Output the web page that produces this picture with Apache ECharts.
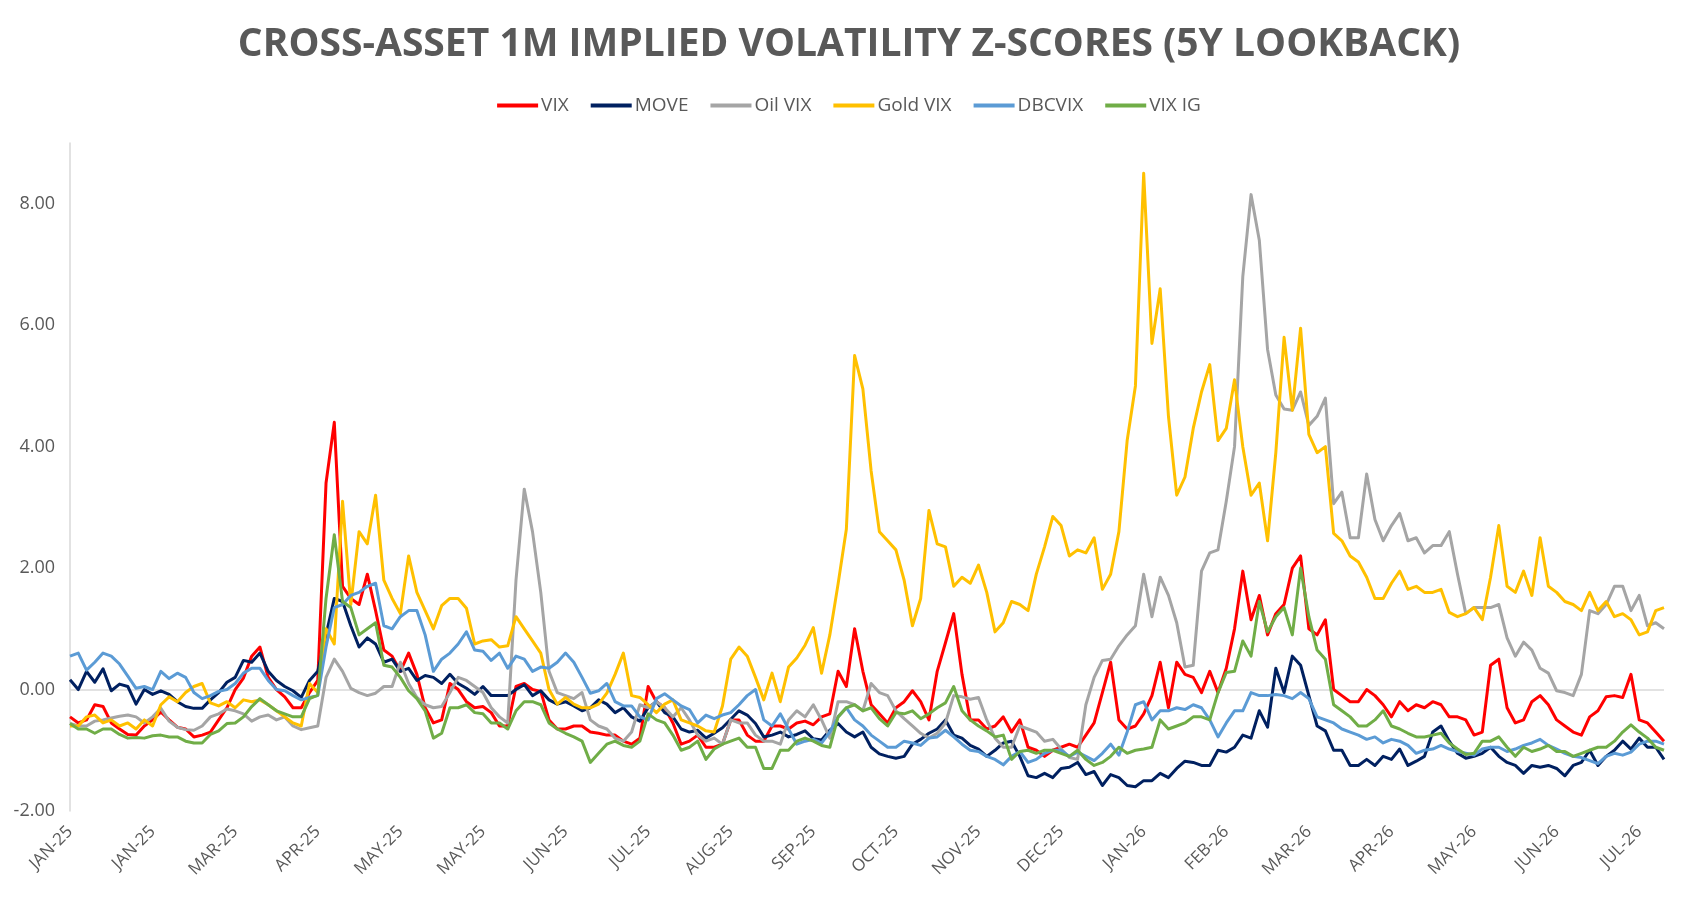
<!DOCTYPE html>
<html>
<head>
<meta charset="utf-8">
<title>Cross-Asset 1M Implied Volatility Z-Scores</title>
<script src="https://cdn.jsdelivr.net/npm/echarts@6/dist/echarts.min.js"></script>
<style>
  html, body { margin: 0; padding: 0; background: #fff; }
  #chart { width: 1698px; height: 900px; }
</style>
</head>
<body>
<div id="chart"></div>
<script>
// Tick labels shown every 10th observation on the category axis
const TICK_LABELS = [
  "JAN-25", "JAN-25", "MAR-25", "APR-25", "MAY-25", "MAY-25", "JUN-25",
  "JUL-25", "AUG-25", "SEP-25", "OCT-25", "NOV-25", "DEC-25", "JAN-26",
  "FEB-26", "MAR-26", "APR-26", "MAY-26", "JUN-26", "JUL-26"
];
const LABEL_STEP = 10;

const VIX = [
  -0.45,-0.55,-0.5,-0.25,-0.28,-0.55,-0.65,-0.74,-0.75,-0.6,
  -0.5,-0.37,-0.5,-0.62,-0.65,-0.78,-0.75,-0.7,-0.5,-0.3,
  0.0,0.19,0.55,0.7,0.2,0.0,-0.12,-0.3,-0.3,-0.05,
  0.15,3.4,4.4,1.7,1.5,1.4,1.9,1.3,0.65,0.55,
  0.3,0.6,0.25,-0.3,-0.55,-0.5,0.1,0.0,-0.2,-0.3,
  -0.28,-0.38,-0.6,-0.6,0.05,0.1,0.0,-0.03,-0.5,-0.65,
  -0.65,-0.6,-0.6,-0.7,-0.72,-0.75,-0.75,-0.85,-0.9,-0.8,
  0.05,-0.2,-0.3,-0.55,-0.9,-0.85,-0.75,-0.95,-0.95,-0.9,
  -0.5,-0.5,-0.75,-0.85,-0.85,-0.6,-0.6,-0.65,-0.55,-0.52,
  -0.58,-0.45,-0.4,0.3,0.05,1.0,0.3,-0.25,-0.4,-0.55,
  -0.3,-0.2,-0.02,-0.2,-0.5,0.3,0.77,1.25,0.25,-0.5,
  -0.5,-0.65,-0.6,-0.45,-0.7,-0.5,-0.95,-1.0,-1.1,-1.0,
  -0.95,-0.9,-0.95,-0.75,-0.55,-0.05,0.45,-0.5,-0.65,-0.6,
  -0.4,-0.1,0.45,-0.3,0.45,0.25,0.2,-0.05,0.3,-0.05,
  0.35,1.0,1.95,1.15,1.55,0.9,1.25,1.4,2.0,2.2,
  1.0,0.9,1.15,0.0,-0.1,-0.2,-0.2,0.0,-0.1,-0.25,
  -0.45,-0.2,-0.35,-0.25,-0.3,-0.2,-0.25,-0.45,-0.45,-0.5,
  -0.75,-0.7,0.4,0.5,-0.3,-0.55,-0.5,-0.2,-0.1,-0.25,
  -0.5,-0.6,-0.7,-0.75,-0.45,-0.35,-0.12,-0.1,-0.13,0.25,
  -0.5,-0.55,-0.7,-0.85
];

const MOVE = [
  0.16,0.0,0.3,0.12,0.34,-0.02,0.09,0.05,-0.24,0.0,
  -0.08,-0.02,-0.08,-0.2,-0.28,-0.31,-0.31,-0.17,-0.05,0.12,
  0.2,0.48,0.45,0.6,0.3,0.15,0.05,-0.02,-0.13,0.15,
  0.3,0.9,1.5,1.45,1.05,0.7,0.85,0.75,0.45,0.5,
  0.3,0.35,0.15,0.23,0.2,0.1,0.25,0.1,0.02,-0.08,
  0.05,-0.1,-0.1,-0.1,0.0,0.08,-0.1,-0.02,-0.17,-0.24,
  -0.2,-0.27,-0.35,-0.3,-0.17,-0.24,-0.38,-0.3,-0.45,-0.52,
  -0.3,-0.2,-0.38,-0.45,-0.65,-0.7,-0.67,-0.8,-0.72,-0.63,
  -0.49,-0.35,-0.42,-0.56,-0.78,-0.75,-0.7,-0.78,-0.74,-0.68,
  -0.81,-0.83,-0.67,-0.56,-0.7,-0.78,-0.7,-0.95,-1.06,-1.1,
  -1.13,-1.1,-0.9,-0.82,-0.72,-0.65,-0.5,-0.75,-0.8,-0.92,
  -0.98,-1.1,-1.0,-0.88,-0.85,-1.1,-1.42,-1.45,-1.38,-1.45,
  -1.3,-1.28,-1.2,-1.4,-1.35,-1.58,-1.4,-1.45,-1.58,-1.6,
  -1.5,-1.5,-1.38,-1.45,-1.3,-1.18,-1.2,-1.25,-1.25,-1.0,
  -1.03,-0.95,-0.75,-0.8,-0.35,-0.62,0.35,-0.05,0.55,0.4,
  -0.1,-0.6,-0.68,-1.0,-1.0,-1.25,-1.25,-1.15,-1.25,-1.1,
  -1.15,-0.98,-1.25,-1.18,-1.1,-0.7,-0.6,-0.85,-1.05,-1.13,
  -1.1,-1.05,-0.95,-1.1,-1.2,-1.25,-1.38,-1.25,-1.28,-1.25,
  -1.3,-1.42,-1.25,-1.2,-1.0,-1.25,-1.1,-1.0,-0.85,-0.98,
  -0.8,-0.95,-0.95,-1.15
];

const OIL_VIX = [
  -0.56,-0.6,-0.6,-0.52,-0.5,-0.47,-0.44,-0.42,-0.45,-0.55,
  -0.45,-0.31,-0.52,-0.62,-0.66,-0.67,-0.6,-0.45,-0.4,-0.32,
  -0.35,-0.4,-0.52,-0.45,-0.42,-0.5,-0.45,-0.6,-0.66,-0.63,
  -0.6,0.2,0.5,0.3,0.02,-0.05,-0.1,-0.06,0.05,0.05,
  0.45,0.1,-0.13,-0.25,-0.3,-0.28,-0.05,0.2,0.15,0.05,
  -0.05,-0.3,-0.45,-0.55,1.8,3.3,2.6,1.6,0.3,-0.05,
  -0.1,-0.15,-0.05,-0.5,-0.6,-0.65,-0.8,-0.85,-0.7,-0.25,
  -0.3,-0.2,-0.3,-0.45,-0.3,-0.5,-0.75,-0.85,-0.8,-0.9,
  -0.5,-0.55,-0.55,-0.75,-0.85,-0.85,-0.9,-0.5,-0.35,-0.45,
  -0.25,-0.5,-0.8,-0.2,-0.2,-0.25,-0.35,0.1,-0.05,-0.1,
  -0.35,-0.48,-0.6,-0.72,-0.8,-0.72,-0.55,-0.1,-0.12,-0.16,
  -0.13,-0.5,-0.8,-0.95,-0.95,-0.6,-0.65,-0.7,-0.85,-0.82,
  -0.98,-1.12,-1.15,-0.25,0.2,0.48,0.5,0.72,0.9,1.05,
  1.9,1.2,1.85,1.55,1.1,0.37,0.4,1.95,2.25,2.3,
  3.1,4.0,6.8,8.15,7.4,5.6,4.85,4.62,4.6,4.9,
  4.35,4.5,4.8,3.06,3.25,2.5,2.5,3.55,2.8,2.45,
  2.7,2.9,2.45,2.5,2.25,2.37,2.37,2.6,1.9,1.25,
  1.35,1.35,1.35,1.4,0.85,0.55,0.78,0.65,0.35,0.27,
  -0.02,-0.05,-0.1,0.25,1.3,1.25,1.4,1.7,1.7,1.3,
  1.55,1.05,1.1,1.0
];

const GOLD_VIX = [
  -0.6,-0.6,-0.45,-0.42,-0.55,-0.5,-0.6,-0.55,-0.65,-0.5,
  -0.6,-0.25,-0.12,-0.2,-0.05,0.05,0.1,-0.22,-0.27,-0.2,
  -0.3,-0.17,-0.2,-0.17,-0.25,-0.35,-0.45,-0.55,-0.6,0.1,
  -0.05,1.0,0.75,3.1,1.4,2.6,2.4,3.2,1.8,1.5,
  1.25,2.2,1.6,1.3,1.0,1.38,1.5,1.5,1.34,0.75,
  0.8,0.82,0.7,0.72,1.2,1.0,0.8,0.6,0.0,-0.24,
  -0.13,-0.24,-0.3,-0.3,-0.24,-0.06,0.25,0.6,-0.1,-0.13,
  -0.25,-0.38,-0.24,-0.17,-0.5,-0.55,-0.6,-0.68,-0.7,-0.27,
  0.5,0.7,0.55,0.2,-0.17,0.27,-0.2,0.37,0.52,0.73,
  1.02,0.27,0.9,1.74,2.64,5.5,4.95,3.6,2.6,2.45,
  2.3,1.8,1.05,1.5,2.95,2.4,2.35,1.7,1.85,1.75,
  2.05,1.6,0.95,1.1,1.45,1.4,1.3,1.9,2.35,2.85,
  2.7,2.2,2.3,2.25,2.5,1.65,1.9,2.6,4.1,5.0,
  8.5,5.7,6.6,4.5,3.2,3.5,4.3,4.9,5.35,4.1,
  4.3,5.1,4.0,3.2,3.4,2.45,3.9,5.8,4.6,5.95,
  4.2,3.9,4.0,2.57,2.45,2.2,2.1,1.85,1.5,1.5,
  1.75,1.95,1.65,1.7,1.6,1.6,1.65,1.27,1.2,1.25,
  1.35,1.15,1.85,2.7,1.7,1.6,1.95,1.55,2.5,1.7,
  1.6,1.45,1.4,1.3,1.6,1.3,1.45,1.2,1.25,1.15,
  0.9,0.95,1.3,1.35
];

const DBCVIX = [
  0.55,0.6,0.32,0.45,0.6,0.55,0.42,0.22,0.02,0.05,
  0.0,0.3,0.18,0.27,0.2,-0.05,-0.15,-0.1,-0.03,0.0,
  0.1,0.27,0.35,0.35,0.15,0.0,-0.02,-0.1,-0.17,-0.13,
  -0.1,0.7,1.35,1.4,1.55,1.6,1.7,1.75,1.05,1.0,
  1.2,1.3,1.3,0.9,0.3,0.5,0.6,0.75,0.95,0.65,
  0.63,0.48,0.6,0.35,0.55,0.5,0.3,0.37,0.35,0.45,
  0.6,0.45,0.2,-0.06,-0.02,0.1,-0.2,-0.27,-0.27,-0.45,
  -0.5,-0.15,-0.07,-0.17,-0.27,-0.33,-0.55,-0.42,-0.48,-0.42,
  -0.38,-0.25,-0.1,0.0,-0.5,-0.6,-0.4,-0.65,-0.9,-0.85,
  -0.82,-0.88,-0.7,-0.45,-0.3,-0.5,-0.6,-0.75,-0.85,-0.95,
  -0.95,-0.85,-0.88,-0.92,-0.8,-0.78,-0.67,-0.78,-0.9,-1.0,
  -1.02,-1.1,-1.15,-1.24,-1.1,-1.02,-1.2,-1.15,-1.05,-1.0,
  -1.0,-1.1,-1.03,-1.1,-1.17,-1.05,-0.9,-1.08,-0.7,-0.25,
  -0.2,-0.5,-0.35,-0.35,-0.3,-0.33,-0.25,-0.3,-0.5,-0.78,
  -0.55,-0.35,-0.35,-0.05,-0.1,-0.1,-0.08,-0.1,-0.15,-0.05,
  -0.15,-0.45,-0.5,-0.55,-0.65,-0.7,-0.75,-0.82,-0.78,-0.88,
  -0.82,-0.85,-0.92,-1.05,-1.0,-0.98,-0.92,-0.98,-1.02,-1.05,
  -1.08,-0.98,-0.95,-0.95,-1.02,-0.98,-0.92,-0.88,-0.82,-0.92,
  -0.98,-1.05,-1.1,-1.12,-1.17,-1.22,-1.1,-1.05,-1.08,-1.03,
  -0.9,-0.85,-0.85,-0.9
];

const VIX_IG = [
  -0.56,-0.65,-0.65,-0.72,-0.65,-0.65,-0.74,-0.8,-0.79,-0.8,
  -0.76,-0.75,-0.78,-0.78,-0.85,-0.88,-0.88,-0.74,-0.68,-0.56,
  -0.55,-0.45,-0.28,-0.15,-0.25,-0.35,-0.4,-0.45,-0.45,-0.15,
  -0.09,1.5,2.55,1.45,1.35,0.9,1.0,1.1,0.4,0.37,
  0.2,-0.02,-0.15,-0.35,-0.8,-0.72,-0.3,-0.3,-0.25,-0.38,
  -0.4,-0.55,-0.55,-0.65,-0.35,-0.2,-0.2,-0.25,-0.55,-0.65,
  -0.72,-0.78,-0.85,-1.2,-1.05,-0.9,-0.85,-0.92,-0.95,-0.85,
  -0.4,-0.5,-0.55,-0.75,-1.0,-0.95,-0.85,-1.15,-0.98,-0.9,
  -0.85,-0.8,-0.95,-0.95,-1.3,-1.3,-1.0,-1.0,-0.85,-0.8,
  -0.85,-0.92,-0.95,-0.45,-0.3,-0.25,-0.35,-0.3,-0.48,-0.6,
  -0.38,-0.4,-0.35,-0.48,-0.4,-0.3,-0.22,0.05,-0.35,-0.5,
  -0.6,-0.68,-0.78,-0.75,-1.15,-1.02,-1.0,-1.05,-1.0,-1.0,
  -1.05,-1.1,-1.0,-1.15,-1.25,-1.2,-1.1,-0.95,-1.05,-1.0,
  -0.98,-0.95,-0.5,-0.65,-0.6,-0.55,-0.45,-0.45,-0.5,-0.05,
  0.28,0.3,0.8,0.55,1.45,0.95,1.2,1.35,0.9,2.0,
  1.2,0.65,0.5,-0.25,-0.35,-0.45,-0.6,-0.6,-0.5,-0.35,
  -0.6,-0.65,-0.72,-0.78,-0.78,-0.75,-0.72,-0.88,-0.98,-1.07,
  -1.05,-0.85,-0.85,-0.78,-0.95,-1.1,-0.95,-1.02,-0.98,-0.92,
  -1.02,-1.02,-1.1,-1.05,-1.0,-0.95,-0.95,-0.85,-0.7,-0.58,
  -0.7,-0.8,-0.95,-1.0
];

const SERIES = [
  { name: "VIX",      data: VIX,      color: "#FF0000" },
  { name: "MOVE",     data: MOVE,     color: "#002060" },
  { name: "Oil VIX",  data: OIL_VIX,  color: "#A5A5A5" },
  { name: "Gold VIX", data: GOLD_VIX, color: "#FFC000" },
  { name: "DBCVIX",   data: DBCVIX,   color: "#5B9BD5" },
  { name: "VIX IG",   data: VIX_IG,   color: "#70AD47" }
];

// one category per observation; only every LABEL_STEP-th gets a label
const categories = VIX.map((_, i) => i);

const TEXT = "#595959";
const AXIS = "#D9D9D9";

const chart = echarts.init(document.getElementById("chart"));

const series = SERIES.map((s, k) => ({
  name: s.name,
  type: "line",
  data: s.data,
  showSymbol: false,
  symbol: "none",
  smooth: false,
  lineStyle: { color: s.color, width: 3, join: "round" },
  itemStyle: { color: s.color },
  z: 2 + k,
  // zero line drawn once, under the first series
  markLine: k === 0 ? {
    silent: true,
    symbol: "none",
    label: { show: false },
    lineStyle: { color: AXIS, width: 1.5, type: "solid" },
    data: [{ yAxis: 0 }],
    z: 1
  } : undefined
}));

chart.setOption({
  animation: false,
  backgroundColor: "#FFFFFF",
  textStyle: { fontFamily: "'Open Sans', sans-serif" },

  title: {
    text: "CROSS-ASSET 1M IMPLIED VOLATILITY Z-SCORES (5Y LOOKBACK)",
    left: "center",
    top: 20,
    textStyle: {
      color: TEXT,
      fontSize: 39,
      fontWeight: "bold",
      fontFamily: "'Open Sans', sans-serif"
    }
  },

  legend: {
    top: 91,
    left: "center",
    icon: "rect",
    itemWidth: 41,
    itemHeight: 4,
    itemGap: 22,
    textStyle: { color: TEXT, fontSize: 19, padding: [0, 0, 0, -2] },
    data: SERIES.map(s => s.name)
  },

  grid: { left: 70, right: 34, top: 143, bottom: 89, containLabel: false },

  xAxis: {
    type: "category",
    data: categories,
    boundaryGap: false,
    axisLine: { show: false, onZero: false },
    axisTick: { show: false },
    splitLine: { show: false },
    axisLabel: {
      interval: LABEL_STEP - 1,
      rotate: 45,
      margin: 18,
      color: TEXT,
      fontSize: 17,
      formatter: (v, idx) => TICK_LABELS[Math.round(idx / LABEL_STEP)] || ""
    }
  },

  yAxis: {
    type: "value",
    min: -2,
    max: 9,
    interval: 2,
    axisLine: { show: true, lineStyle: { color: AXIS, width: 1.5 } },
    axisTick: { show: false },
    splitLine: { show: false },
    axisLabel: {
      color: TEXT,
      fontSize: 18,
      margin: 15,
      showMaxLabel: false,
      formatter: v => v.toFixed(2)
    }
  },

  series
});
</script>
</body>
</html>
